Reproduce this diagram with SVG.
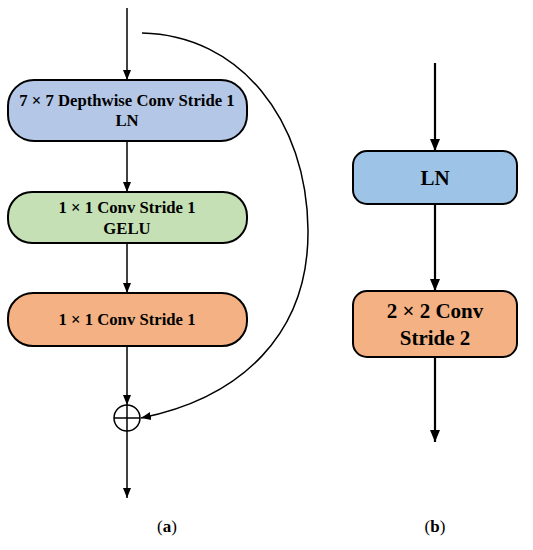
<svg xmlns="http://www.w3.org/2000/svg" width="533" height="550" viewBox="0 0 533 550">
<style>
.box{stroke:#000;stroke-width:2}
.t{font-family:"Liberation Serif","Times New Roman",serif;font-weight:bold;text-anchor:middle;fill:#000}
.ts{font-size:16.7px}
.tl{font-size:21px}
.c{fill:none;stroke:#000;stroke-width:1.5}
.cb{fill:none;stroke:#000;stroke-width:2.2}
.lab{font-family:"Liberation Serif","Times New Roman",serif;font-size:17px;text-anchor:middle}
</style>
<defs>
<marker id="ah" markerUnits="userSpaceOnUse" markerWidth="10" markerHeight="10" viewBox="0 0 10 10" refX="10" refY="5" orient="auto">
<path d="M0,1 L10,5 L0,9 Z" fill="#000"/>
</marker>
<marker id="ahb" markerUnits="userSpaceOnUse" markerWidth="12" markerHeight="12" viewBox="0 0 12 12" refX="12" refY="6" orient="auto">
<path d="M0,1 L12,6 L0,11 Z" fill="#000"/>
</marker>
</defs>
<g id="connectors">
<line class="c" x1="127" y1="8" x2="127" y2="80" marker-end="url(#ah)"/>
<line class="c" x1="127" y1="141" x2="127" y2="192" marker-end="url(#ah)"/>
<line class="c" x1="127" y1="243" x2="127" y2="293" marker-end="url(#ah)"/>
<line class="c" x1="127" y1="346" x2="127" y2="405" marker-end="url(#ah)"/>
<line class="c" x1="127" y1="431" x2="127" y2="498" marker-end="url(#ah)"/>
<path class="c" d="M142,33 C240,35 307,120 308,230 C309,335 240,398 141,418" marker-end="url(#ah)"/>
<line class="cb" x1="435" y1="63" x2="435" y2="151" marker-end="url(#ahb)"/>
<line class="cb" x1="435" y1="204" x2="435" y2="291" marker-end="url(#ahb)"/>
<line class="cb" x1="435" y1="357" x2="435" y2="442" marker-end="url(#ahb)"/>
</g>
<g id="a1">
<rect class="box" x="8" y="80" width="239" height="61" rx="26" fill="#b4c7e7"/>
<text class="t ts" x="127" y="106">7 × 7 Depthwise Conv Stride 1</text>
<text class="t ts" x="127" y="126">LN</text>
</g>
<g id="a2">
<rect class="box" x="8" y="192" width="239" height="51" rx="24" fill="#c5e0b4"/>
<text class="t ts" x="127" y="213">1 × 1 Conv Stride 1</text>
<text class="t ts" x="127" y="234">GELU</text>
</g>
<g id="a3">
<rect class="box" x="8" y="293" width="239" height="53" rx="25" fill="#f4b183"/>
<text class="t ts" x="127" y="325">1 × 1 Conv Stride 1</text>
</g>
<g id="sum">
<circle cx="127" cy="418" r="13" fill="none" stroke="#000" stroke-width="1.5"/>
<line x1="114" y1="418" x2="140" y2="418" stroke="#000" stroke-width="1.5"/>
<line x1="127" y1="405" x2="127" y2="431" stroke="#000" stroke-width="1.5"/>
</g>
<g id="b1">
<rect class="box" x="353" y="151" width="164" height="53" rx="14" fill="#9dc3e6"/>
<text class="t tl" x="435" y="185">LN</text>
</g>
<g id="b2">
<rect class="box" x="353" y="291" width="164" height="66" rx="14" fill="#f4b183"/>
<text class="t tl" x="435" y="318">2 × 2 Conv</text>
<text class="t tl" x="435" y="345">Stride 2</text>
</g>
<g id="labels">
<text class="lab" x="167" y="532">(<tspan font-weight="bold">a</tspan>)</text>
<text class="lab" x="435" y="532">(<tspan font-weight="bold">b</tspan>)</text>
</g>
</svg>
